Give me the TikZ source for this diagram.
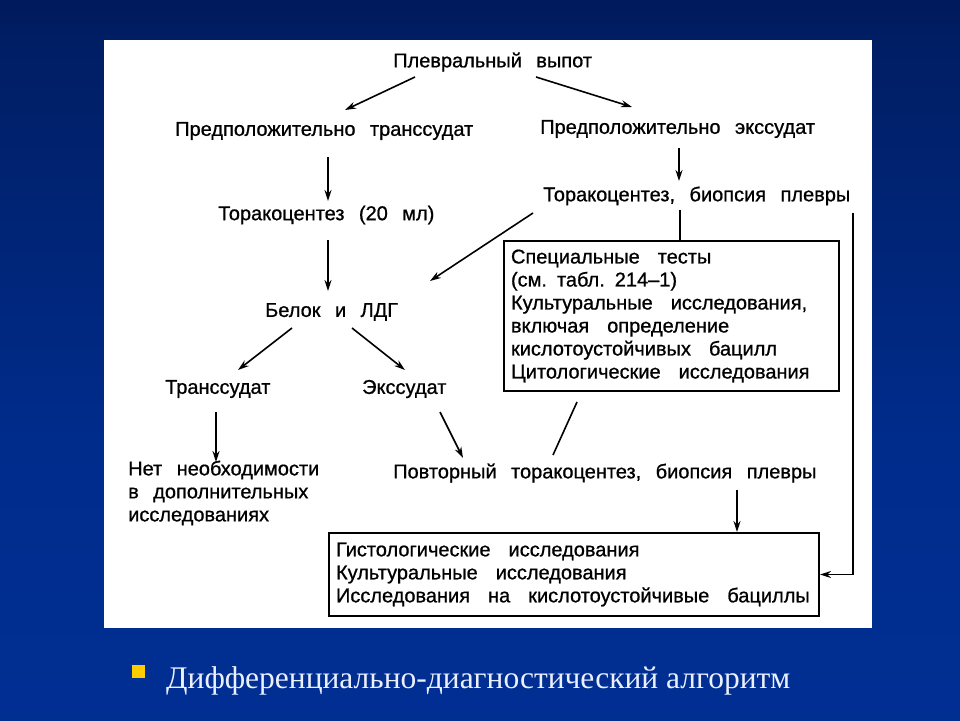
\documentclass[tikz,border=0pt]{standalone}
\usepackage{fontspec}
\setmainfont{Liberation Sans}
\newfontfamily\diagfont{Liberation Sans}[WordSpace=2.6,FakeBold=0.8]
\newfontfamily\capfont{Liberation Serif}
\usetikzlibrary{arrows.meta,calc}
\definecolor{bgtop}{RGB}{2,3,16}
\definecolor{bgup}{RGB}{0,12,50}
\definecolor{bgmid}{RGB}{0,30,100}
\definecolor{bglow}{RGB}{0,44,140}
\definecolor{bgbot}{RGB}{0,50,155}
\definecolor{bullet}{RGB}{255,204,0}
\definecolor{captext}{RGB}{235,240,255}
\pgfdeclareverticalshading{slidebg}{100bp}{color(0bp)=(bgbot); color(44bp)=(bglow); color(72bp)=(bgmid); color(89bp)=(bgup); color(100bp)=(bgtop)}
\newcommand\widespaces{\spaceskip=18pt\relax}
\tikzset{
  txt/.style={anchor=west,inner sep=0pt,font=\diagfont\fontsize{20}{23}\selectfont,text=black},
  boxed/.style={draw,line width=2pt,inner xsep=7pt,inner ysep=6pt,align=left,
    font=\diagfont\fontsize{20}{23}\selectfont,text=black,execute at begin node=\widespaces},
  arr/.style={-{Stealth[length=11pt,width=7pt]},line width=1.6pt},
  ln/.style={line width=1.6pt}
}
\begin{document}
\begin{tikzpicture}[x=1pt,y=-1pt]
\shade[shading=slidebg] (0,0) rectangle (960,720);
\useasboundingbox (0,0) rectangle (960,720);
\fill[white] (104,40) rectangle (872,628);

\node[txt] (plev) at (393,62) {Плевральный выпот};
\node[txt] (predtr) at (175,131) {Предположительно транссудат};
\node[txt] (predex) at (540,129) {Предположительно экссудат};
\node[txt] (tor20) at (218,215) {Торакоцентез (20 мл)};
\node[txt] (torbio) at (543,196) {Торакоцентез, биопсия плевры};
\node[boxed,anchor=north west,text width=321pt,minimum height=150pt] (tests) at (503,240)
  {Специальные тесты\\(см. табл. 214–1)\\Культуральные исследования,\\включая определение\\кислотоустойчивых бацилл\\Цитологические исследования};
\node[txt] (belok) at (265,312) {Белок и ЛДГ};
\node[txt] (transud) at (165,389) {Транссудат};
\node[txt] (exsud) at (362,389) {Экссудат};
\node[txt,align=left] (netneed) at (128,493) {Нет необходимости\\в дополнительных\\исследованиях};
\node[txt] (povt) at (393,473) {Повторный торакоцентез, биопсия плевры};
\node[boxed,anchor=north west,text width=476pt,minimum height=83pt] (hist) at (328,532)
  {Гистологические исследования\\Культуральные исследования\\Исследования на кислотоустойчивые бациллы};

\draw[arr] ($(plev.west)+(22,15)$) -- ($(predtr.west)+(170,-21)$);
\draw[arr] ($(plev.west)+(143,15)$) -- ($(predex.west)+(92,-22)$);
\draw[arr] ($(predtr.west)+(153,26)$) -- ($(tor20.west)+(110,-14)$);
\draw[arr] ($(predex.west)+(139,19)$) -- ($(torbio.west)+(136,-15)$);
\draw[ln] ($(torbio.west)+(137,14)$) -- ($(tests.north west)+(177,0)$);
\draw[arr] ($(torbio.west)+(-10,17)$) -- ($(belok.west)+(165,-31)$);
\draw[arr] ($(torbio.west)+(310,17)$) |- (hist.east);
\draw[arr] ($(tor20.west)+(110,25)$) -- ($(belok.west)+(63,-21)$);
\draw[arr] ($(belok.west)+(27,16)$) -- ($(transud.west)+(73,-19)$);
\draw[arr] ($(belok.west)+(87,16)$) -- ($(exsud.west)+(43,-19)$);
\draw[arr] ($(transud.west)+(51,23)$) -- ($(netneed.west)+(88,-31)$);
\draw[arr] ($(exsud.west)+(78,23)$) -- ($(povt.west)+(70,-15)$);
\draw[ln] ($(tests.south west)+(74,10)$) -- ($(povt.west)+(160,-18)$);
\draw[arr] ($(povt.west)+(344,17)$) -- ($(hist.north west)+(409,0)$);

\fill[bullet] (132,665) rectangle (145,678);
\node[anchor=base west,inner sep=0pt,font=\capfont\fontsize{31.5}{36}\selectfont,text=captext] (cap) at (166,688) {Дифференциально-диагностический алгоритм};
\end{tikzpicture}
\end{document}
